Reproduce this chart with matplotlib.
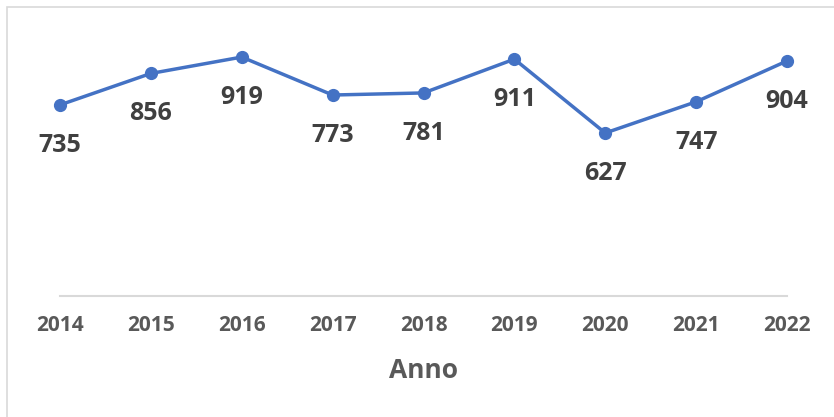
import matplotlib.pyplot as plt
from matplotlib.patches import Rectangle

# DATA
YEARS = ["2014", "2015", "2016", "2017", "2018", "2019", "2020", "2021", "2022"]
VALUES = [735, 856, 919, 773, 781, 911, 627, 747, 904]

# STYLE
W, H, DPI = 834, 417, 100
LINE_COLOUR = "#4472C4"
LABEL_COLOUR = "#404040"
AXIS_TEXT_COLOUR = "#595959"
GRID_COLOUR = "#D9D9D9"
FONT = ["Open Sans", "DejaVu Sans"]

fig = plt.figure(figsize=(W / DPI, H / DPI), dpi=DPI, facecolor="white")

# Chart area border (top/left only visible in crop)
fig.patches.append(
    Rectangle((6.5 / W, -0.1), 1.2, 1.1 - 7 / H, transform=fig.transFigure,
              fill=False, edgecolor=GRID_COLOUR, linewidth=1.2)
)

ax = fig.add_axes([60 / W, 1 - 296 / H, (787 - 60) / W, 260 / H])
x = list(range(len(YEARS)))
ax.plot(x, VALUES, color=LINE_COLOUR, linewidth=2.5, marker="o", markersize=8.5,
        clip_on=False, solid_capstyle="round")

for xi, v in zip(x, VALUES):
    ax.annotate(str(v), (xi, v), xytext=(0, -29), textcoords="offset points",
                ha="center", va="center", fontsize=18, fontweight="bold",
                color=LABEL_COLOUR, family=FONT)

ax.set_xlim(0, len(YEARS) - 1)
ax.set_ylim(0, 1000)
ax.set_xticks(x)
ax.set_xticklabels(YEARS, fontsize=15, fontweight="bold", color=AXIS_TEXT_COLOUR, family=FONT)
ax.tick_params(axis="x", length=0, pad=14)
ax.set_yticks([])
for side in ["top", "right", "left"]:
    ax.spines[side].set_visible(False)
ax.spines["bottom"].set_color(GRID_COLOUR)
ax.spines["bottom"].set_linewidth(1.5)
ax.patch.set_alpha(0)

fig.text(424 / W, 1 - 371 / H, "Anno", ha="center", va="center", fontsize=19,
         fontweight="bold", color=AXIS_TEXT_COLOUR, family=FONT)

fig.savefig("out.png", dpi=DPI)
